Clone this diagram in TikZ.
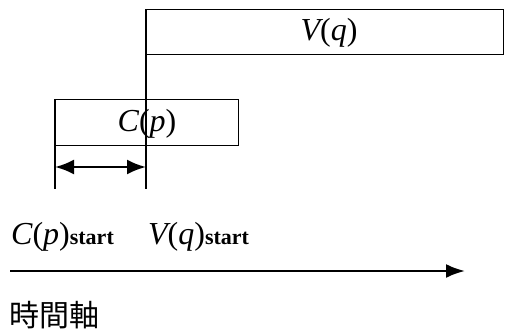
\documentclass[tikz,border=0pt]{standalone}
\usepackage{fontspec}
\setmainfont{Liberation Serif}
\newfontfamily\cjk{Noto Sans CJK JP}
\usetikzlibrary{arrows.meta}
\begin{document}
\begin{tikzpicture}[x=1pt,y=-1pt,
  box/.style={draw,line width=1pt,minimum width=#1,inner sep=0pt,anchor=north west,minimum height=45pt},
  lbl/.style={font=\fontsize{32}{36}\selectfont,inner sep=0pt},
  thick line/.style={line width=2pt}]
\useasboundingbox (0,0) rectangle (506,332);
\node[box=357pt] (V) at (146,9) {};
\node[box=183pt,minimum height=46pt] (C) at (55,99) {};
\node[lbl] (Vt) at ([xshift=4pt,yshift=-1pt]V.center) {\itshape V\upshape(\itshape q\upshape)};
\node[lbl] (Ct) at ([yshift=-1pt]C.center) {\itshape C\upshape(\itshape p\upshape)};
\coordinate (vb) at (146,189);
\coordinate (cb) at (55,189);
\draw[thick line] (V.north west) -- (vb);
\draw[thick line] (C.north west) -- (cb);
\coordinate (al) at (55,167);
\coordinate (ar) at (146,167);
\draw[line width=2.4pt,{Latex[length=19pt,width=15pt]}-{Latex[length=19pt,width=15pt]}] (al) -- (ar);
\node[lbl,anchor=base west] (cs) at (11,244) {\itshape C\upshape(\itshape p\upshape)\textbf{\fontsize{22}{24}\selectfont start}};
\node[lbl,anchor=base west] (vs) at (148,244) {\itshape V\upshape(\itshape q\upshape)\textbf{\fontsize{22}{24}\selectfont start}};
\coordinate (t0) at (10,271);
\coordinate (t1) at (465,271);
\draw[line width=2.4pt,-{Latex[length=19pt,width=14pt]}] (t0) -- (t1);
\node[anchor=west,inner sep=0pt,font=\cjk\fontsize{30}{33}\selectfont] (ax) at (9,315) {時間軸};
\end{tikzpicture}
\end{document}
